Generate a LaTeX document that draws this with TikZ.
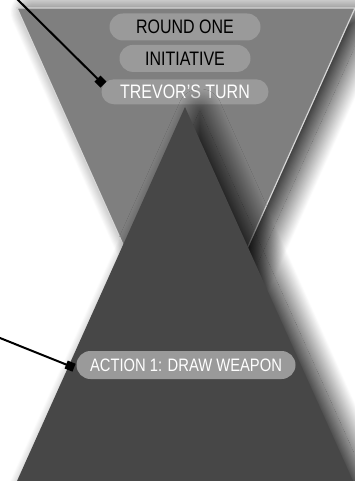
\documentclass[tikz,border=0pt]{standalone}
\usepackage{fontspec}
\setmainfont{Liberation Sans}[FakeStretch=0.82]
\usepackage{tikz}
\usetikzlibrary{positioning,arrows.meta,shapes.misc,shadows.blur}
\definecolor{funnelgray}{RGB}{127,127,127}
\definecolor{conedark}{RGB}{71,71,71}
\definecolor{pillgray}{RGB}{154,154,154}
\definecolor{rimlight}{RGB}{214,214,214}

\begin{document}
\begin{tikzpicture}[x=1pt, y=-1pt, >={Square[length=8.5pt,width=8.5pt]},
  pill/.style={rounded rectangle, fill=pillgray, inner sep=0pt, minimum height=27pt, font=\fontsize{19.5}{20}\selectfont},
  pointer/.style={->, line width=2pt, black},
  soft shade/.style={blur shadow={shadow xshift=15pt, shadow yshift=-4pt, shadow blur radius=22pt, shadow blur steps=50, shadow opacity=90}}]

\useasboundingbox (0,0) rectangle (354,481);

% ---------------- upper funnel ----------------
\fill[funnelgray, draw=rimlight, line width=1.2pt, soft shade] (17,8) -- (355,8) -- (186,385) -- cycle;

\node[pill, minimum width=151pt, text=black] (round) at (185,27) {ROUND ONE};
\node[pill, minimum width=131pt, text=black, below=4pt of round] (init) {INITIATIVE};
\node[pill, minimum width=167pt, minimum height=25pt, text=white, below=7pt of init] (turn) {TREVOR’S TURN};

% ---------------- lower cone ----------------
\fill[conedark, soft shade] (185,107) -- (366,510) -- (4,510) -- cycle;

\node[pill, minimum width=219pt, minimum height=28pt, text=white, font=\fontsize{18}{20}\selectfont] (action) at (186,365) {ACTION 1: DRAW WEAPON};

% pointers
\coordinate (turnfrom) at (13,-5);
\coordinate (actionfrom) at (-5,336);
\draw[pointer] (turnfrom) -- (turn.175);
\draw[pointer, shorten >=3pt] (actionfrom) -- (action.182);

\end{tikzpicture}
\end{document}
